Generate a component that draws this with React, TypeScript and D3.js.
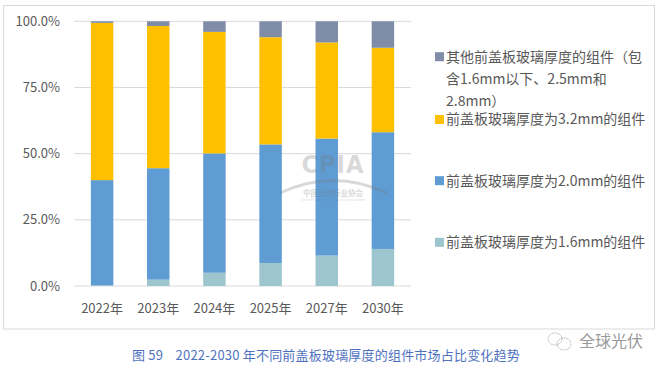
import React from "react";
import * as d3 from "d3";

const categories = ["2022年", "2023年", "2024年", "2025年", "2027年", "2030年"];
const s16 = [0.3, 2.4, 5.0, 8.7, 11.5, 14.0];
const s20 = [39.7, 42.1, 45.1, 44.8, 44.2, 44.1];
const s32 = [59.4, 53.7, 45.9, 40.5, 36.3, 31.9];
const sOther = [0.6, 1.8, 4.0, 6.0, 8.0, 10.0];
const yTicks = [0, 25, 50, 75, 100];

const seriesNames = [
  "前盖板玻璃厚度为1.6mm的组件",
  "前盖板玻璃厚度为2.0mm的组件",
  "前盖板玻璃厚度为3.2mm的组件",
  "其他前盖板玻璃厚度的组件（包含1.6mm以下、2.5mm和2.8mm）",
];
const colors = ["#9DC5CE", "#5E9CD3", "#FFC000", "#7F8DA8"];

const FONT = "'Noto Sans CJK SC', 'Noto Sans', sans-serif";

export default function App() {
  const W = 663, H = 371;
  const x0 = 74, x1 = 411, yTop = 21.3, yBot = 286;
  const x = d3.scaleBand<string>().domain(categories).range([x0, x1]).paddingInner(0.6).paddingOuter(0.3);
  const y = d3.scaleLinear().domain([0, 100]).range([yBot, yTop]);

  const rows = categories.map((c, i) => ({ cat: c, a: s16[i], b: s20[i], c3: s32[i], d: sOther[i] }));
  const stack = d3.stack<any>().keys(["a", "b", "c3", "d"])(rows);

  const legendItems = [
    { color: colors[3], lines: ["其他前盖板玻璃厚度的组件（包", "含1.6mm以下、2.5mm和", "2.8mm）"], y: 56.7, gap: 22.4 },
    { color: colors[2], lines: [seriesNames[2]], y: 119.5, gap: 0 },
    { color: colors[1], lines: [seriesNames[1]], y: 180.7, gap: 0 },
    { color: colors[0], lines: [seriesNames[0]], y: 242.3, gap: 0 },
  ];

  return (
    <svg width={W} height={H} style={{ position: "absolute", left: 0, top: 0, fontFamily: FONT }}>
      <rect x={0} y={0} width={W} height={H} fill="#fff" />
      <rect x={3.5} y={5.5} width={651} height={323.5} fill="#fff" stroke="#D9D9D9" strokeWidth={1} />
      {yTicks.map((t) => (
        <g key={t}>
          <line x1={x0} x2={x1} y1={y(t)} y2={y(t)} stroke="#D9D9D9" strokeWidth={1} />
          <text x={60} y={y(t)} dy="0.35em" textAnchor="end" fontSize={13} fill="#595959">
            {d3.format(".1f")(t) + "%"}
          </text>
        </g>
      ))}
      {stack.map((layer, li) => (
        <g key={li} fill={colors[li]}>
          {layer.map((d, i) => (
            <rect key={i} x={x(categories[i])!} width={x.bandwidth()} y={y(d[1])} height={Math.max(0, y(d[0]) - y(d[1]))} />
          ))}
        </g>
      ))}
      {/* CPIA watermark */}
      <g opacity={0.28} fill="#7a7a7a">
        <text x={333} y={173} textAnchor="middle" fontSize={25} fontWeight="bold" fontFamily="'DejaVu Sans Condensed', 'DejaVu Sans', sans-serif" letterSpacing={1}>CPIA</text>
        <path d="M280,193 Q333,168 387,193" fill="none" stroke="#7a7a7a" strokeWidth={3} />
        <text x={333} y={196} textAnchor="middle" fontSize={7.5} fontWeight="bold">中国光伏行业协会</text>
        <text x={333} y={201} textAnchor="middle" fontSize={3.5}>China Photovoltaic Industry Association</text>
      </g>
      {categories.map((c) => (
        <text key={c} x={x(c)! + x.bandwidth() / 2} y={308} dy="0.35em" textAnchor="middle" fontSize={13} fill="#595959">
          {c}
        </text>
      ))}
      {legendItems.map((it, i) => (
        <g key={i}>
          <rect x={435} y={it.y - 4.5} width={9} height={9} fill={it.color} />
          {it.lines.map((l, j) => (
            <text key={j} x={446} y={it.y + j * it.gap} dy="0.35em" fontSize={14} fill="#595959">
              {l}
            </text>
          ))}
        </g>
      ))}
      <text x={132} y={355.7} dy="0.35em" fontSize={13} fill="#4F72C0" letterSpacing={0.2} xmlSpace="preserve">
        {"图 59    2022-2030 年不同前盖板玻璃厚度的组件市场占比变化趋势"}
      </text>
      {/* WeChat-like watermark */}
      <g stroke="#9a9a9a" fill="none" strokeWidth={0.8} strokeDasharray="1.5,1">
        <ellipse cx={555} cy={339} rx={7} ry={6} />
        <ellipse cx={564} cy={344} rx={7} ry={6} />
      </g>
      <text x={579} y={341.7} dy="0.35em" fontSize={16} fill="#9a9a9a">全球光伏</text>
    </svg>
  );
}
